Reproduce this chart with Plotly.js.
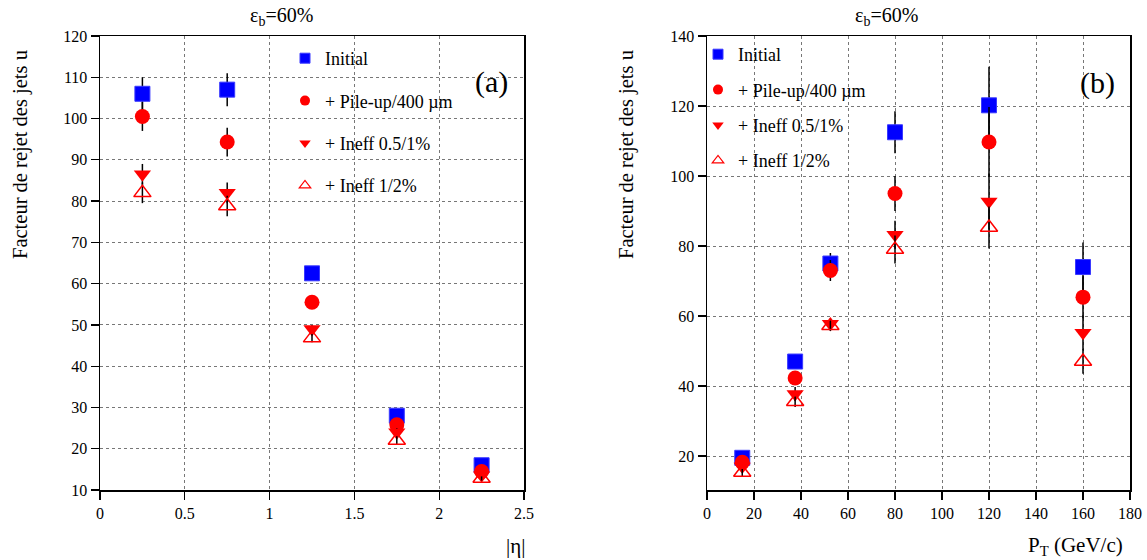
<!DOCTYPE html>
<html><head><meta charset="utf-8">
<script src="https://cdn.plot.ly/plotly-3.0.1.min.js"></script>
<style>body{margin:0;background:#fff}#c{width:1147px;height:560px}
#pre{position:absolute;left:0;top:0;font-family:'Liberation Serif';font-size:16px;color:#fff;z-index:-1}</style>
</head><body><div id="pre">Initial 0123456789 (a) εη µ %</div><div id="c"></div>
<script>
// Panel (a): versus |eta|
const etaX = [0.25, 0.75, 1.25, 1.75, 2.25];
const etaInitial = [106, 107, 62.5, 28, 16];
const etaInitialErr = [4, 4, 1.5, 1, 0.5];
const etaPileup = [100.5, 94.3, 55.5, 25.8, 14.5];
const etaPileupErr = [3.5, 3.5, 1, 1, 0.5];
const etaIneff1 = [86.5, 82, 49, 24, 13.6];
const etaIneff1Err = [2.5, 2.5, 1, 1, 0.5];
const etaIneff2 = [82, 78.8, 46.8, 22, 12.8];
const etaIneff2Err = [2.5, 2.5, 1, 1, 0.5];

// Panel (b): versus P_T
const ptX = [15, 37.5, 52.5, 80, 120, 160];
const ptInitial = [19.5, 47, 75, 112.5, 120.2, 74];
const ptInitialErr = [1, 2, 3, 6, 11, 7];
const ptPileup = [18.2, 42.3, 73, 95, 109.7, 65.4];
const ptPileupErr = [1, 2, 3, 5, 10, 6];
const ptIneff1 = [17, 37.7, 57.8, 83.2, 92.7, 55.2];
const ptIneff1Err = [1, 2, 1.5, 4, 8, 5];
const ptIneff2 = [15.3, 35.5, 57.2, 79, 85.3, 47];
const ptIneff2Err = [1, 1.5, 1.5, 4, 6, 3.5];

const names = ['Initial', '+ Pile-up/400 \u00b5m', '+ Ineff 0.5/1%', '+ Ineff 1/2%'];

const serif = 'Liberation Serif';
const styles = [
  {symbol: 'square', size: 15, color: '#0000ff', line: {color: '#3a3aff', width: 1}},
  {symbol: 'circle', size: 15, color: '#ff0000', line: {width: 0}},
  {symbol: 'triangle-down', size: 15, color: '#ff0000', line: {width: 0}},
  {symbol: 'triangle-up-open', size: 15, color: '#ff0000', line: {color: '#ff0000', width: 1.5}}
];

function mk(x, y, err, i, xa, ya) {
  return {
    type: 'scatter', mode: 'markers', x: x, y: y, name: names[i],
    xaxis: xa, yaxis: ya, showlegend: false,
    marker: styles[i],
    error_y: {type: 'data', array: err, visible: true, color: '#000', thickness: 1.5, width: 0}
  };
}
function legItem(i, xa, ya, leg) {
  const m = Object.assign({}, styles[i], {size: 10});
  if (i === 3) m.line = {color: '#ff0000', width: 1.2};
  return {type: 'scatter', mode: 'markers', x: [null], y: [null], name: names[i],
    xaxis: xa, yaxis: ya, legend: leg, legendgroup: leg + i, marker: m, hoverinfo: 'skip'};
}

const etaSeries = [[etaInitial, etaInitialErr], [etaPileup, etaPileupErr], [etaIneff1, etaIneff1Err], [etaIneff2, etaIneff2Err]];
const ptSeries = [[ptInitial, ptInitialErr], [ptPileup, ptPileupErr], [ptIneff1, ptIneff1Err], [ptIneff2, ptIneff2Err]];

const data = [];
etaSeries.forEach((s, i) => data.push(mk(etaX, s[0], s[1], i, 'x', 'y')));
ptSeries.forEach((s, i) => data.push(mk(ptX, s[0], s[1], i, 'x2', 'y2')));
[0, 1, 2, 3].forEach(i => data.push(legItem(i, 'x', 'y', 'legend')));
[0, 1, 2, 3].forEach(i => data.push(legItem(i, 'x2', 'y2', 'legend2')));

const W = 1147, H = 560;
const px = v => v / W, py = v => (H - v) / H;

const axBase = {
  showline: true, linecolor: '#000', linewidth: 1.5, mirror: true,
  ticks: 'outside', ticklen: 8, tickwidth: 1.2, tickcolor: '#000',
  showgrid: true, gridcolor: '#777', griddash: 'dot', gridwidth: 1,
  zeroline: false, tickfont: {family: serif, size: 16, color: '#000'},
  fixedrange: true
};

function ann(text, x, y, size, extra) {
  return Object.assign({text: text, xref: 'paper', yref: 'paper', x: px(x), y: py(y),
    xanchor: 'center', yanchor: 'middle', showarrow: false,
    font: {family: serif, size: size, color: '#000'}}, extra || {});
}

const layout = {
  width: W, height: H, margin: {l: 0, r: 0, t: 0, b: 0},
  font: {family: serif, color: '#000'},
  paper_bgcolor: '#fff', plot_bgcolor: '#fff', showlegend: true,
  xaxis: Object.assign({}, axBase, {domain: [px(100), px(524)], range: [0, 2.5], dtick: 0.5, tick0: 0, anchor: 'y'}),
  yaxis: Object.assign({}, axBase, {domain: [py(490), py(36)], range: [10, 120], dtick: 10, tick0: 0, anchor: 'x'}),
  xaxis2: Object.assign({}, axBase, {domain: [px(707), px(1130)], range: [0, 180], dtick: 20, tick0: 0, anchor: 'y2'}),
  yaxis2: Object.assign({}, axBase, {domain: [py(490), py(36)], range: [10.3, 140], dtick: 20, tick0: 0, anchor: 'x2'}),
  legend: {x: px(285), y: py(40), xanchor: 'left', yanchor: 'top', bgcolor: 'rgba(0,0,0,0)',
    font: {family: serif, size: 18, color: '#000'}, traceorder: 'grouped', tracegroupgap: 16},
  legend2: {x: px(698), y: py(36), xanchor: 'left', yanchor: 'top', bgcolor: 'rgba(0,0,0,0)',
    font: {family: serif, size: 18, color: '#000'}, traceorder: 'grouped', tracegroupgap: 9},
  annotations: [
    ann('\u03b5<sub>b</sub>=60%', 281, 16, 20),
    ann('\u03b5<sub>b</sub>=60%', 886, 16, 20),
    ann('Facteur de rejet des jets u', 20, 155, 20.5, {textangle: -90}),
    ann('Facteur de rejet des jets u', 626, 155, 20.5, {textangle: -90}),
    ann('|\u03b7|', 515, 546, 21),
    ann('P<sub>T</sub> (GeV/c)', 1075, 546, 21),
    ann('(a)', 491, 82, 30),
    ann('(b)', 1097, 83, 30)
  ]
};

function draw() { Plotly.newPlot('c', data, layout, {staticPlot: true, displayModeBar: false}); }
if (document.fonts && document.fonts.load) {
  document.fonts.load('16px "Liberation Serif"').then(draw, draw);
} else { draw(); }
</script></body></html>
